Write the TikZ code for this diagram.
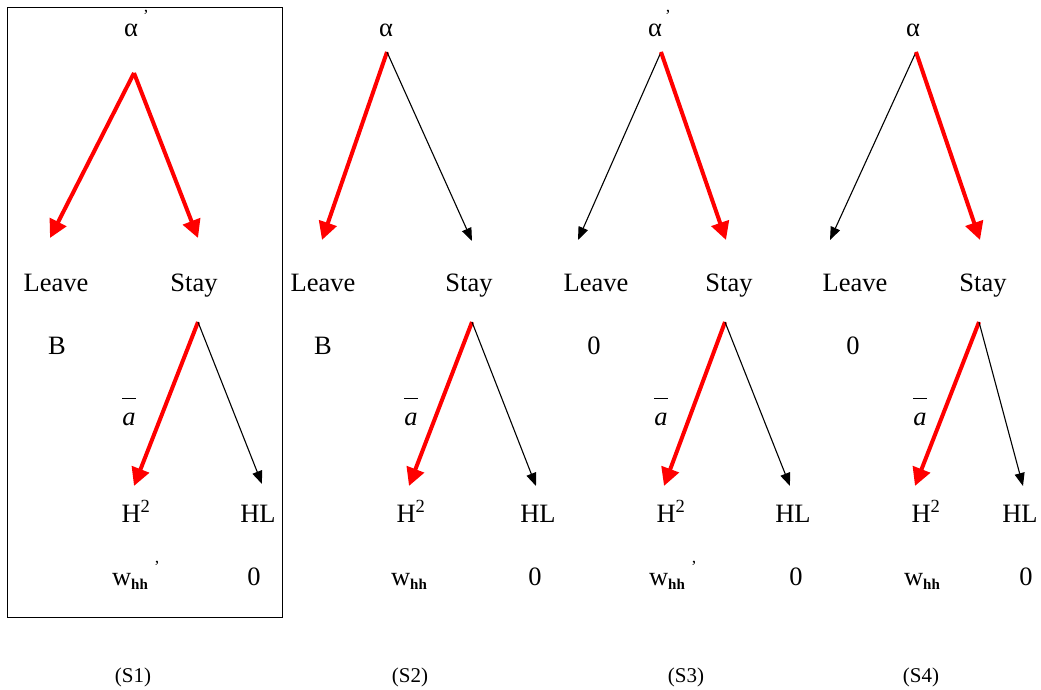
\documentclass[tikz,border=0pt]{standalone}
\usepackage{fontspec}
\setmainfont{Liberation Serif}
\usetikzlibrary{arrows.meta}
\definecolor{tred}{RGB}{255,0,0}
\tikzset{
  lbl/.style={inner sep=0pt, anchor=base, font=\fontsize{26.5}{28}\selectfont},
  captext/.style={inner sep=0pt, anchor=base, font=\fontsize{21}{22}\selectfont},
  primemark/.style={inner sep=0pt, font=\fontsize{17}{17}\selectfont},
  redarrow/.style={draw=tred, line width=4pt, -{Triangle[length=18pt,width=18pt]}, fill=tred},
  blackarrow/.style={draw=black, line width=1.1pt, -{Triangle[length=13pt,width=10pt]}}
}
\newcommand{\abar}{$\overline{\rule{0pt}{0.95em}\mbox{\textit{a}}}$}
\newcommand{\whh}[1]{w\raisebox{-0.35ex}{\fontsize{15}{15}\selectfont\textbf{hh}}#1}
\begin{document}
\begin{tikzpicture}[x=1pt,y=-1pt]
\useasboundingbox (0,0) rectangle (1041,690);
\node[draw, line width=0.9pt, minimum width=275pt, minimum height=610pt, inner sep=0pt] (box) at (144.5,312) {};

% ---------- S1 ----------
\node[lbl] (s1alpha) at (131,37) {α};
\node[primemark] (s1p) at (146,16) {’};
\coordinate (s1top) at (134,73);
\coordinate (s1l) at (50,238);
\coordinate (s1r) at (198,238);
\draw[redarrow] (s1top) -- (s1l);
\draw[redarrow] (s1top) -- (s1r);
\node[lbl] (s1leave) at (56,291) {Leave};
\node[lbl] (s1stay) at (194,291) {Stay};
\node[lbl] (s1b) at (57,354) {B};
\coordinate (s1mid) at (198,322);
\coordinate (s1h) at (134,486);
\coordinate (s1hl) at (262,484);
\draw[redarrow] (s1mid) -- (s1h);
\draw[blackarrow] (s1mid) -- (s1hl);
\node[lbl] (s1a) at (129,425) {\abar};
\node[lbl] (s1H) at (136,522) {H\textsuperscript{2}};
\node[lbl] (s1HL) at (258,522) {HL};
\node[lbl] (s1w) at (130,585) {\whh{}};
\node[primemark] (s1wp) at (157,567) {’};
\node[lbl] (s1z) at (254,585) {0};
\node[captext] (s1cap) at (133,682) {(S1)};

% ---------- S2 ----------
\node[lbl] (s2alpha) at (386,37) {α};
\coordinate (s2top) at (387,52);
\coordinate (s2l) at (322,240);
\coordinate (s2r) at (472,241);
\draw[redarrow] (s2top) -- (s2l);
\draw[blackarrow] (s2top) -- (s2r);
\node[lbl] (s2leave) at (323,291) {Leave};
\node[lbl] (s2stay) at (469,291) {Stay};
\node[lbl] (s2b) at (323,354) {B};
\coordinate (s2mid) at (472,322);
\coordinate (s2h) at (409,486);
\coordinate (s2hl) at (536,486);
\draw[redarrow] (s2mid) -- (s2h);
\draw[blackarrow] (s2mid) -- (s2hl);
\node[lbl] (s2a) at (411,425) {\abar};
\node[lbl] (s2H) at (411,522) {H\textsuperscript{2}};
\node[lbl] (s2HL) at (538,522) {HL};
\node[lbl] (s2w) at (409,585) {\whh{}};
\node[lbl] (s2z) at (535,585) {0};
\node[captext] (s2cap) at (410,682) {(S2)};

% ---------- S3 ----------
\node[lbl] (s3alpha) at (655,37) {α};
\node[primemark] (s3p) at (668,16) {’};
\coordinate (s3top) at (661,52);
\coordinate (s3l) at (578,240);
\coordinate (s3r) at (726,240);
\draw[blackarrow] (s3top) -- (s3l);
\draw[redarrow] (s3top) -- (s3r);
\node[lbl] (s3leave) at (596,291) {Leave};
\node[lbl] (s3stay) at (729,291) {Stay};
\node[lbl] (s3b) at (594,354) {0};
\coordinate (s3mid) at (725,322);
\coordinate (s3h) at (664,486);
\coordinate (s3hl) at (790,486);
\draw[redarrow] (s3mid) -- (s3h);
\draw[blackarrow] (s3mid) -- (s3hl);
\node[lbl] (s3a) at (661,425) {\abar};
\node[lbl] (s3H) at (671,522) {H\textsuperscript{2}};
\node[lbl] (s3HL) at (793,522) {HL};
\node[lbl] (s3w) at (667,585) {\whh{}};
\node[primemark] (s3wp) at (694,567) {’};
\node[lbl] (s3z) at (796,585) {0};
\node[captext] (s3cap) at (686,682) {(S3)};

% ---------- S4 ----------
\node[lbl] (s4alpha) at (913,37) {α};
\coordinate (s4top) at (916,52);
\coordinate (s4l) at (830,240);
\coordinate (s4r) at (980,240);
\draw[blackarrow] (s4top) -- (s4l);
\draw[redarrow] (s4top) -- (s4r);
\node[lbl] (s4leave) at (855,291) {Leave};
\node[lbl] (s4stay) at (983,291) {Stay};
\node[lbl] (s4b) at (853,354) {0};
\coordinate (s4mid) at (979,322);
\coordinate (s4h) at (915,486);
\coordinate (s4hl) at (1023,486);
\draw[redarrow] (s4mid) -- (s4h);
\draw[blackarrow] (s4mid) -- (s4hl);
\node[lbl] (s4a) at (920,425) {\abar};
\node[lbl] (s4H) at (926,522) {H\textsuperscript{2}};
\node[lbl] (s4HL) at (1020,522) {HL};
\node[lbl] (s4w) at (922,585) {\whh{}};
\node[lbl] (s4z) at (1026,585) {0};
\node[captext] (s4cap) at (921,682) {(S4)};
\end{tikzpicture}
\end{document}
